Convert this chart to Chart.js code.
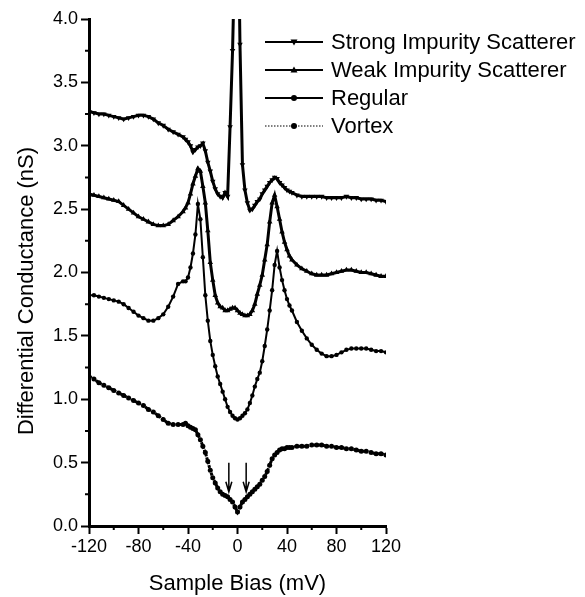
<!DOCTYPE html>
<html>
<head>
<meta charset="utf-8">
<script src="https://cdn.jsdelivr.net/npm/chart.js"></script>
<style>
  html, body { margin: 0; padding: 0; background: #fff; }
  canvas { display: block; }
</style>
</head>
<body>
<canvas id="chart" width="585" height="597"></canvas>
<script>
// sample bias (mV), denser in the gap region
const bias = [
  -120, -116, -112, -108, -104, -100, -96, -92, -88, -84, -80, -76, -72, -68, -64, -60, -56, -52, -48, -44,
  -42, -40, -38, -36, -34, -32, -30, -28, -26, -24, -22, -20, -18, -16, -14, -12, -10, -8, -6, -4,
  -2, 0, 2, 4, 6, 8, 10, 12, 14, 16, 18, 20, 22, 24, 26, 28, 30, 32, 34, 36, 38, 40, 42,
  44, 48, 52, 56, 60, 64, 68, 72, 76, 80, 84, 88, 92, 96, 100, 104, 108, 112, 116, 120
];

// differential conductance (nS)
const strong = [
  3.27, 3.26, 3.25, 3.25, 3.24, 3.23, 3.22, 3.21, 3.22, 3.23, 3.24, 3.24, 3.23, 3.21, 3.18, 3.16, 3.13, 3.11, 3.09, 3.07,
  3.05, 3.03, 3.00, 2.95, 2.97, 2.99, 3.00, 3.02, 2.96, 2.87, 2.80, 2.72, 2.66, 2.62, 2.60, 2.59, 2.63, 2.60, 3.15, 3.75,
  4.60, 5.20, 3.80, 2.85, 2.65, 2.55, 2.49, 2.50, 2.53, 2.56, 2.58, 2.62, 2.65, 2.68, 2.71, 2.73, 2.75, 2.74, 2.71, 2.69, 2.67, 2.65, 2.64,
  2.63, 2.61, 2.60, 2.60, 2.60, 2.60, 2.60, 2.59, 2.59, 2.59, 2.59, 2.60, 2.59, 2.59, 2.58, 2.58, 2.58, 2.57, 2.57, 2.56
];
const weak = [
  2.62, 2.61, 2.60, 2.59, 2.58, 2.57, 2.56, 2.53, 2.50, 2.47, 2.44, 2.42, 2.40, 2.38, 2.37, 2.37, 2.38, 2.41, 2.44, 2.48,
  2.51, 2.55, 2.62, 2.70, 2.76, 2.82, 2.80, 2.68, 2.55, 2.33, 2.08, 1.94, 1.82, 1.76, 1.73, 1.72, 1.70, 1.70, 1.71, 1.72,
  1.72, 1.70, 1.68, 1.67, 1.66, 1.66, 1.67, 1.70, 1.75, 1.83, 1.90, 1.98, 2.10, 2.22, 2.40, 2.55, 2.61, 2.52, 2.42, 2.32, 2.24, 2.18, 2.13,
  2.10, 2.06, 2.03, 2.01, 1.99, 1.98, 1.98, 1.98, 1.99, 2.00, 2.01, 2.02, 2.02, 2.01, 2.00, 2.00, 1.99, 1.98, 1.97, 1.97
];
const regular = [
  1.82, 1.82, 1.81, 1.80, 1.79, 1.78, 1.77, 1.75, 1.72, 1.69, 1.66, 1.64, 1.62, 1.62, 1.64, 1.67, 1.73, 1.81, 1.91, 1.93,
  1.93, 1.96, 2.04, 2.15, 2.30, 2.54, 2.42, 2.12, 1.82, 1.62, 1.46, 1.35, 1.26, 1.18, 1.12, 1.06, 1.00, 0.94, 0.90, 0.87,
  0.85, 0.84, 0.85, 0.87, 0.89, 0.92, 0.97, 1.03, 1.10, 1.16, 1.21, 1.30, 1.42, 1.55, 1.70, 1.86, 2.06, 2.17, 2.04, 1.94, 1.86, 1.79, 1.74,
  1.70, 1.61, 1.54, 1.48, 1.43, 1.39, 1.36, 1.34, 1.34, 1.35, 1.37, 1.39, 1.40, 1.40, 1.40, 1.40, 1.39, 1.38, 1.38, 1.37
];
const vortex = [
  1.18, 1.16, 1.13, 1.11, 1.09, 1.07, 1.05, 1.03, 1.01, 0.99, 0.97, 0.95, 0.92, 0.90, 0.87, 0.84, 0.81, 0.80, 0.80, 0.80,
  0.81, 0.79, 0.78, 0.77, 0.76, 0.72, 0.68, 0.63, 0.58, 0.51, 0.44, 0.38, 0.34, 0.30, 0.27, 0.25, 0.24, 0.23, 0.21, 0.19,
  0.15, 0.11, 0.15, 0.19, 0.21, 0.23, 0.25, 0.27, 0.29, 0.31, 0.33, 0.36, 0.39, 0.43, 0.48, 0.53, 0.56, 0.58, 0.60, 0.61, 0.61, 0.62, 0.62,
  0.62, 0.63, 0.63, 0.63, 0.64, 0.64, 0.64, 0.63, 0.63, 0.62, 0.62, 0.61, 0.61, 0.60, 0.59, 0.59, 0.58, 0.57, 0.57, 0.56
];

const seriesNames = ['Strong Impurity Scatterer', 'Weak Impurity Scatterer', 'Regular', 'Vortex'];
const xMinorTicks = [-100, -60, -20, 20, 60, 100];
const yMinorTicks = [0.25, 0.75, 1.25, 1.75, 2.25, 2.75, 3.25, 3.75];
// arrows marking the vortex sub-gap features
const arrowBias = [-7, 7];
const arrowFrom = 0.50;
const arrowTo = 0.27;

const FONT = "'Liberation Sans', Arial, Helvetica, sans-serif";
Chart.defaults.font.family = FONT;
Chart.defaults.color = '#000';

function toPoints(vals) {
  return bias.map((b, i) => ({ x: b, y: vals[i] }));
}

function marker(ctx, style, x, y, r) {
  ctx.beginPath();
  if (style === 'down') {
    ctx.moveTo(x - r, y - r * 0.7); ctx.lineTo(x + r, y - r * 0.7); ctx.lineTo(x, y + r);
  } else if (style === 'up') {
    ctx.moveTo(x - r, y + r * 0.7); ctx.lineTo(x + r, y + r * 0.7); ctx.lineTo(x, y - r);
  } else {
    ctx.arc(x, y, r, 0, Math.PI * 2);
  }
  ctx.closePath();
  ctx.fill();
}

// legend, y title, minor ticks and arrows
const extras = {
  id: 'extras',
  afterDraw(chart) {
    const ctx = chart.ctx;
    const xs = chart.scales.x, ys = chart.scales.y;
    const area = chart.chartArea;
    ctx.save();
    ctx.strokeStyle = '#000';
    ctx.fillStyle = '#000';

    // minor ticks
    ctx.lineWidth = 2;
    ctx.beginPath();
    yMinorTicks.forEach(v => {
      const py = ys.getPixelForValue(v);
      ctx.moveTo(area.left - 4, py); ctx.lineTo(area.left, py);
    });
    xMinorTicks.forEach(v => {
      const px = xs.getPixelForValue(v);
      ctx.moveTo(px, area.bottom); ctx.lineTo(px, area.bottom + 4);
    });
    ctx.stroke();

    // arrows
    ctx.lineWidth = 1.5;
    arrowBias.forEach(b => {
      const px = xs.getPixelForValue(b);
      const y1 = ys.getPixelForValue(arrowFrom);
      const y2 = ys.getPixelForValue(arrowTo);
      ctx.beginPath();
      ctx.moveTo(px, y1); ctx.lineTo(px, y2);
      ctx.moveTo(px - 3, y2 - 10); ctx.lineTo(px, y2); ctx.lineTo(px + 3, y2 - 10);
      ctx.stroke();
    });

    // y axis title (sits a little below the axis centre in the original)
    ctx.save();
    ctx.font = '22px ' + FONT;
    ctx.textAlign = 'center';
    ctx.textBaseline = 'middle';
    ctx.translate(27, 291);
    ctx.rotate(-Math.PI / 2);
    ctx.fillText('Differential Conductance (nS)', 0, 0);
    ctx.restore();

    // legend
    const styles = ['down', 'up', 'circle', 'circle'];
    ctx.font = '22px ' + FONT;
    ctx.textBaseline = 'middle';
    seriesNames.forEach((name, i) => {
      const y = 42 + i * 28;
      ctx.lineWidth = i === 3 ? 1.5 : 2;
      ctx.setLineDash(i === 3 ? [1.5, 1.5] : []);
      ctx.strokeStyle = i === 3 ? '#555' : '#000';
      ctx.beginPath(); ctx.moveTo(265, y); ctx.lineTo(323, y); ctx.stroke();
      ctx.setLineDash([]);
      marker(ctx, styles[i], 294, y, i < 2 ? 3.5 : 3);
      ctx.fillText(name, 331, y + 1);
    });
    ctx.restore();
  }
};

new Chart(document.getElementById('chart'), {
  type: 'line',
  data: {
    datasets: [
      {
        label: seriesNames[0], data: toPoints(strong),
        borderColor: '#000', backgroundColor: '#000', borderWidth: 3,
        pointStyle: 'triangle', rotation: 180, pointRadius: 3.2, pointBorderWidth: 0
      },
      {
        label: seriesNames[1], data: toPoints(weak),
        borderColor: '#000', backgroundColor: '#000', borderWidth: 3,
        pointStyle: 'triangle', pointRadius: 3.2, pointBorderWidth: 0
      },
      {
        label: seriesNames[2], data: toPoints(regular),
        borderColor: '#000', backgroundColor: '#000', borderWidth: 2,
        pointStyle: 'circle', pointRadius: 2.2, pointBorderWidth: 0
      },
      {
        label: seriesNames[3], data: toPoints(vortex),
        borderColor: '#000', backgroundColor: '#000', borderWidth: 3, borderDash: [3, 1],
        pointStyle: 'circle', pointRadius: 2.5, pointBorderWidth: 0
      }
    ]
  },
  options: {
    responsive: false,
    animation: false,
    devicePixelRatio: 1,
    layout: { padding: { top: 19, right: 199, left: 0, bottom: 0 } },
    plugins: { legend: { display: false }, tooltip: { enabled: false } },
    scales: {
      x: {
        type: 'linear', min: -120, max: 120,
        afterFit(scale) { scale.height = 71; },
        ticks: { stepSize: 40, font: { size: 18 }, padding: 2, color: '#000' },
        grid: { drawOnChartArea: false, tickLength: 8, tickWidth: 2, tickColor: '#000' },
        border: { display: true, width: 3, color: '#000' },
        title: { display: true, text: 'Sample Bias (mV)', font: { size: 22 }, padding: { top: 0, bottom: 0 }, color: '#000' }
      },
      y: {
        type: 'linear', min: 0, max: 4,
        afterFit(scale) { scale.width = 89; },
        ticks: { stepSize: 0.5, font: { size: 18 }, padding: 3, color: '#000', callback: v => v.toFixed(1) },
        grid: { drawOnChartArea: false, tickLength: 8, tickWidth: 2, tickColor: '#000' },
        border: { display: true, width: 3, color: '#000' },
        title: { display: false }
      }
    }
  },
  plugins: [extras]
});
</script>
</body>
</html>
